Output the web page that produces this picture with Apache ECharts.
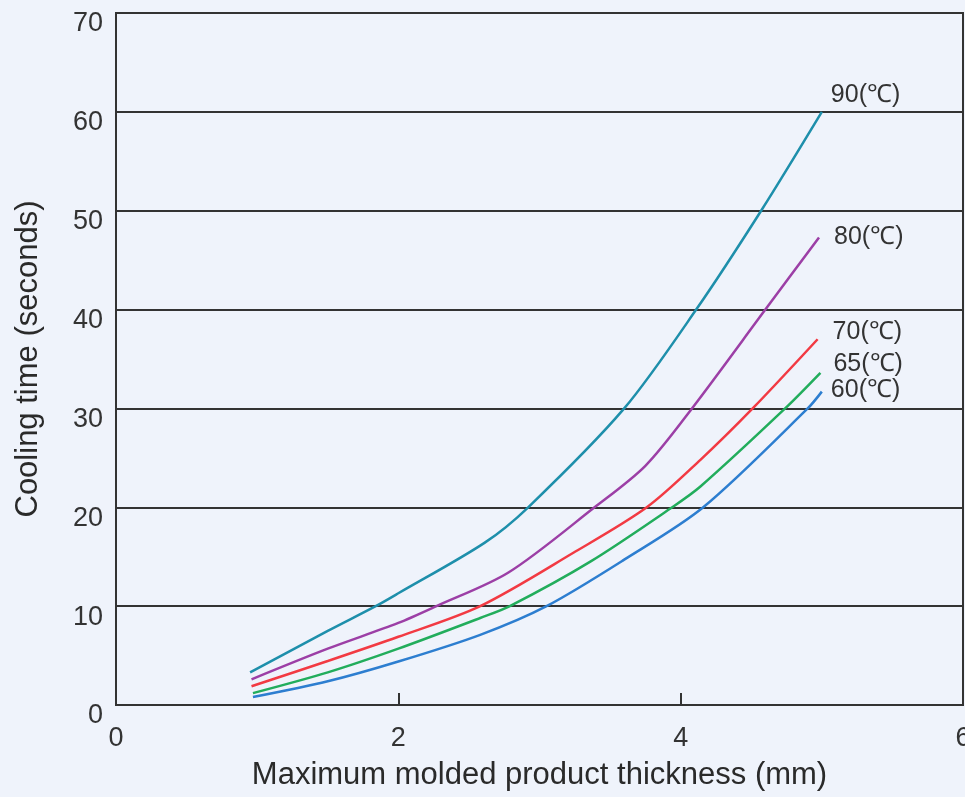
<!DOCTYPE html>
<html>
<head>
<meta charset="utf-8">
<script src="https://cdn.jsdelivr.net/npm/echarts@6/dist/echarts.min.js"></script>
<style>
html,body{margin:0;padding:0;background:#eff3fb;}
#chart{width:965px;height:797px;}
</style>
</head>
<body>
<div id="chart"></div>
<script>
// Data: [thickness (mm), cooling time (s)]
const seriesNames = ['90(℃)', '80(℃)', '70(℃)', '65(℃)', '60(℃)'];
const data90 = [[0.95, 3.3], [1.5, 7.5], [1.84, 10], [2.0, 11.3], [2.61, 16.4], [2.92, 20], [3.6, 30], [4.11, 40], [4.57, 50], [5.0, 60]];
const data80 = [[0.96, 2.6], [1.5, 5.7], [2.0, 8.3], [2.27, 10], [2.78, 13.4], [3.39, 20], [3.75, 24.2], [4.08, 30], [4.6, 40], [4.98, 47.3]];
const data70 = [[0.96, 1.9], [1.5, 4.45], [2.0, 6.9], [2.58, 10], [3.24, 15.4], [3.76, 20], [4.14, 24.8], [4.51, 30], [4.97, 37.0]];
const data65 = [[0.97, 1.2], [1.5, 3.3], [2.0, 5.7], [2.58, 8.8], [2.79, 10], [3.36, 14.5], [3.94, 20], [4.14, 22.1], [4.74, 30], [4.99, 33.6]];
const data60 = [[0.97, 0.8], [1.5, 2.4], [2.0, 4.4], [2.58, 7.1], [3.05, 10], [3.6, 14.7], [4.16, 20], [4.9, 30], [5.0, 31.7]];
const xTicks = [0, 2, 4, 6];
const yTicks = [0, 10, 20, 30, 40, 50, 60, 70];
const xTitle = 'Maximum molded product thickness (mm)';
const yTitle = 'Cooling time (seconds)';

const allData = [data90, data80, data70, data65, data60];
const colors = ['#1e8fab', '#9c3fa6', '#f23a43', '#22ad5c', '#2d7ed0'];
const labelOffsets = [[1, -17], [7, 0], [7, -7], [5, -9], [1, -2]];

const chart = echarts.init(document.getElementById('chart'));
const font = 'Liberation Sans, Arial, sans-serif';
chart.setOption({
  backgroundColor: '#eff3fb',
  animation: false,
  grid: {
    left: 116, right: 2, top: 13, bottom: 92,
    outerBoundsMode: 'none',
    containLabel: false,
    show: true, borderColor: '#333', borderWidth: 2, backgroundColor: 'transparent'
  },
  xAxis: {
    type: 'value', min: 0, max: 6, interval: 2,
    name: xTitle, nameLocation: 'middle', nameGap: 55,
    nameTextStyle: { fontFamily: font, fontSize: 31, color: '#2a2a2a' },
    axisLine: { show: true, lineStyle: { color: '#333', width: 2 } },
    axisTick: { show: true, inside: true, length: 12, lineStyle: { color: '#333', width: 2 } },
    axisLabel: {
      fontFamily: font, fontSize: 27, color: '#333', margin: 20,
      formatter: v => xTicks.includes(v) ? String(v) : ''
    },
    splitLine: { show: false }
  },
  yAxis: {
    type: 'value', min: 0, max: 70, interval: 10,
    name: yTitle, nameLocation: 'middle', nameGap: 72,
    nameTextStyle: { fontFamily: font, fontSize: 31, color: '#2a2a2a' },
    axisLine: { show: true, lineStyle: { color: '#333', width: 2 } },
    axisTick: { show: false },
    axisLabel: {
      margin: 13,
      formatter: v => yTicks.includes(v) ? '{a|' + v + '}' : '',
      rich: { a: { fontFamily: font, fontSize: 27, color: '#333', padding: [22, 0, 0, 0] } }
    },
    splitLine: { show: true, lineStyle: { color: '#333', width: 2 } }
  },
  series: allData.map((d, i) => ({
    type: 'line',
    name: seriesNames[i],
    data: d,
    smooth: 0.3,
    showSymbol: false,
    symbol: 'none',
    lineStyle: { color: colors[i], width: 2.5 },
    itemStyle: { color: colors[i] },
    endLabel: {
      show: true,
      formatter: seriesNames[i],
      fontFamily: font, fontSize: 25, color: '#333',
      offset: labelOffsets[i]
    },
    z: 3
  }))
});
</script>
</body>
</html>
